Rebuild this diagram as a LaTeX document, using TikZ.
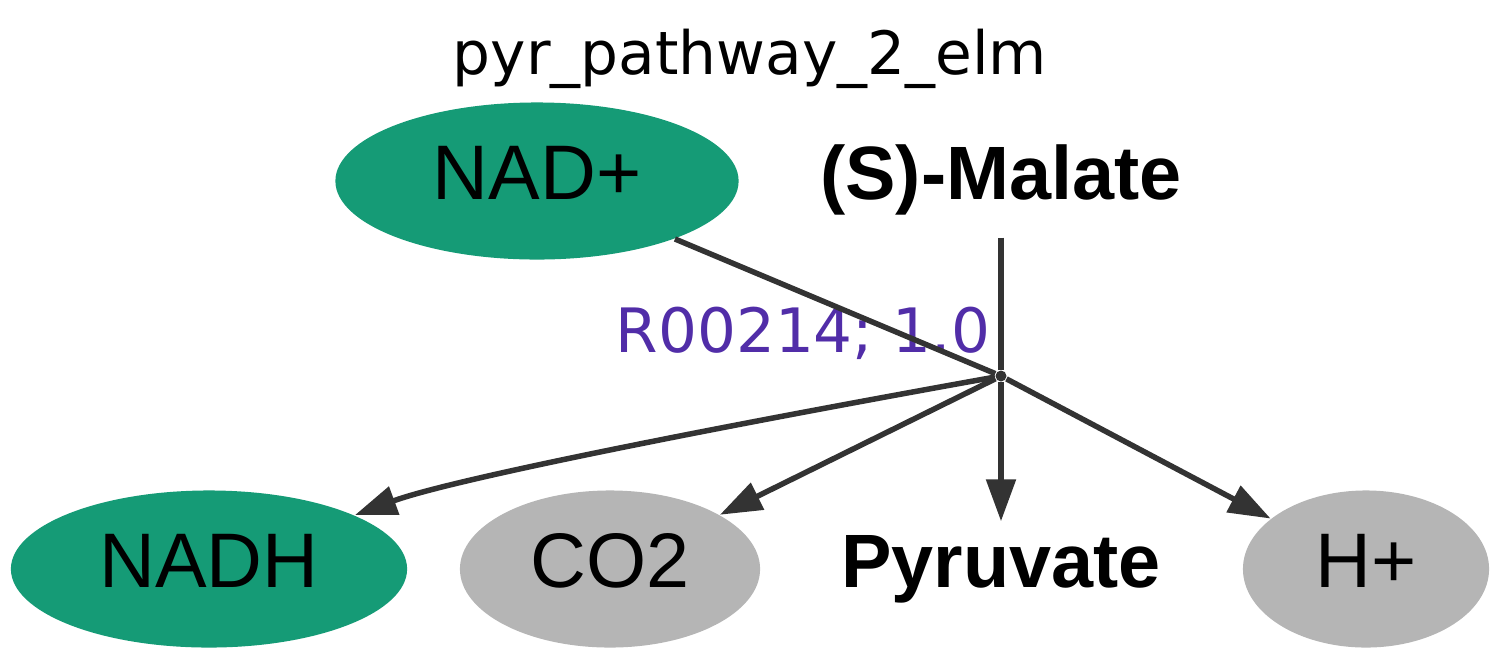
\documentclass[tikz,border=0pt]{standalone}
\usepackage{fontspec}
\setmainfont{Liberation Sans}
\newfontfamily\dejavu{DejaVu Sans}
\usetikzlibrary{shapes.geometric,arrows.meta}
\definecolor{cofgreen}{HTML}{159B76}
\definecolor{sidegray}{HTML}{B5B5B5}
\definecolor{edgegray}{HTML}{333333}
\definecolor{rxnpurple}{HTML}{512DA8}
\begin{document}
\begin{tikzpicture}[x=0.01cm,y=-0.01cm,
    cof/.style={ellipse,fill=cofgreen,inner sep=0pt,minimum height=1.57cm,
      text height=0.57cm,text depth=0.2cm,font=\fontsize{22}{26}\selectfont},
    side/.style={cof,fill=sidegray},
    main/.style={inner sep=0pt,text height=0.57cm,text depth=0.2cm,
      font=\fontsize{21.5}{26}\selectfont\bfseries},
    arr/.style={-{Triangle[length=0.42cm,width=0.29cm]}}]
  \useasboundingbox (0,0) rectangle (1500,660);
  \draw
    (750,74) node[anchor=base,inner sep=0pt,font=\dejavu\fontsize{17}{20}\selectfont] (title){pyr\_pathway\_2\_elm}
    (537,181) node[cof,minimum width=4.03cm] (nad){NAD+}
    (1001,181) node[main,minimum height=1.12cm] (malate){(S)-Malate}
    (1001,376) node[circle,fill=edgegray,inner sep=0pt,minimum size=0.11cm] (rxn){}
    (991,352) node[anchor=base east,inner sep=0pt,text=rxnpurple,font=\dejavu\fontsize{17.4}{20}\selectfont] (rxnlabel){R00214; 1.0}
    (209,569) node[cof,minimum width=3.96cm] (nadh){NADH}
    (610,569) node[side,minimum width=3.0cm] (co2){CO2}
    (1001,569) node[main,minimum height=0.94cm] (pyruvate){Pyruvate}
    (1366,569) node[side,minimum width=2.46cm] (h){H+};
  \begin{scope}[edgegray,line width=0.055cm]
    \draw (nad) to (rxn);
    \draw (malate) to (rxn);
    \draw[arr] (rxn) .. controls (700,430) and (450,480) .. (nadh);
    \draw[arr] (rxn) to (co2);
    \draw[arr] (rxn) to (pyruvate);
    \draw[arr] (rxn) to (h);
  \end{scope}
\end{tikzpicture}
\end{document}
